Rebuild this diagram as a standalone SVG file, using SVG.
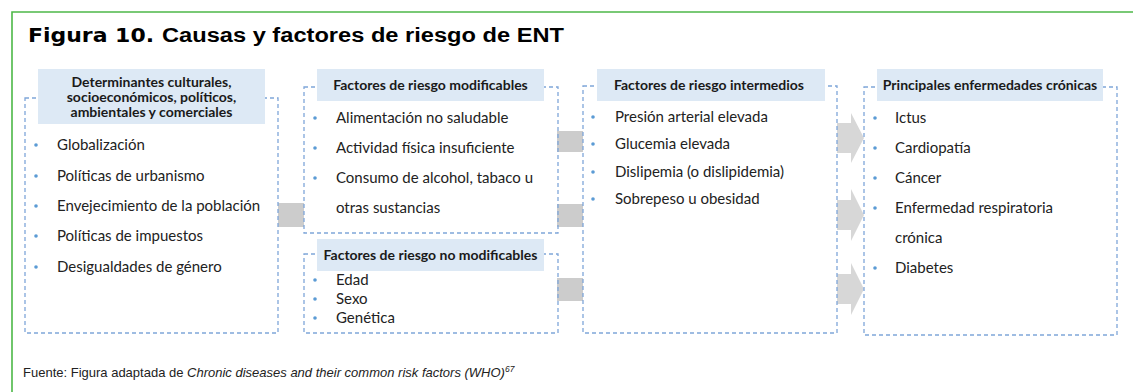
<svg xmlns="http://www.w3.org/2000/svg" width="1133" height="392" viewBox="0 0 1133 392">
<style>
.frame{stroke:#4db848;stroke-width:1.6;fill:none}
.box{fill:none;stroke:#7fa6d9;stroke-width:1.3;stroke-dasharray:4 3}
.hdr{fill:#dde9f5}
.ht{font-family:Lato,"Liberation Sans",sans-serif;font-weight:700;font-size:14px;fill:#1a1a1a;text-anchor:middle}
.it{font-family:Lato,"Liberation Sans",sans-serif;font-size:15px;fill:#222}
.bul{fill:#5b9bd5}
.conn{fill:#cccccc}
.arr{fill:#d7d7d7}
.title{font-family:"Liberation Sans",Arial,sans-serif;font-weight:700;font-size:20px;fill:#000}
.fig{font-family:"DejaVu Sans","Liberation Sans",sans-serif;font-weight:700;font-size:20px;fill:#000}
.foot{font-family:"Liberation Sans",Arial,sans-serif;font-size:13px;fill:#222}
.sup{font-size:8.5px;font-style:italic}
</style>
<rect width="1133" height="392" fill="#fff"/>
<path class="frame" d="M12 392 V12 H1133"/>
<text class="fig" x="28" y="42" textLength="126" lengthAdjust="spacingAndGlyphs">Figura 10.</text>
<text class="title" x="162" y="42" textLength="402" lengthAdjust="spacingAndGlyphs">Causas y factores de riesgo de ENT</text>

<g id="connectors">
<rect class="conn" x="278" y="203" width="26" height="24"/>
<rect class="conn" x="557" y="131" width="26" height="21"/>
<rect class="conn" x="557" y="204" width="26" height="23"/>
<rect class="conn" x="557" y="278" width="26" height="23"/>
<polygon class="arr" points="837,123 851,123 851,113 864,138 851,163 851,153 837,153"/>
<polygon class="arr" points="837,200 851,200 851,189 864,215 851,241 851,230 837,230"/>
<polygon class="arr" points="837,274 851,274 851,263 864,289 851,315 851,304 837,304"/>
</g>

<g id="determinantes">
<rect class="box" x="25" y="98" width="253" height="235"/>
<rect class="hdr" x="38" y="69" width="227" height="55"/>
<text class="ht" x="151.5" y="87">Determinantes culturales,</text>
<text class="ht" x="151.5" y="102">socioeconómicos, políticos,</text>
<text class="ht" x="151.5" y="117">ambientales y comerciales</text>
<circle class="bul" cx="36" cy="145" r="1.8"/>
<circle class="bul" cx="36" cy="176" r="1.8"/>
<circle class="bul" cx="36" cy="206" r="1.8"/>
<circle class="bul" cx="36" cy="236" r="1.8"/>
<circle class="bul" cx="36" cy="267" r="1.8"/>
<text class="it" x="57" y="150">Globalización</text>
<text class="it" x="57" y="181">Políticas de urbanismo</text>
<text class="it" x="57" y="211">Envejecimiento de la población</text>
<text class="it" x="57" y="241">Políticas de impuestos</text>
<text class="it" x="57" y="272">Desigualdades de género</text>
</g>

<g id="modificables">
<rect class="box" x="304" y="87" width="254" height="146"/>
<rect class="hdr" x="317" y="69" width="227" height="32"/>
<text class="ht" x="430.5" y="90">Factores de riesgo modificables</text>
<circle class="bul" cx="315" cy="118" r="1.8"/>
<circle class="bul" cx="315" cy="148" r="1.8"/>
<circle class="bul" cx="315" cy="178" r="1.8"/>
<text class="it" x="336" y="123">Alimentación no saludable</text>
<text class="it" x="336" y="153">Actividad física insuficiente</text>
<text class="it" x="336" y="183">Consumo de alcohol, tabaco u</text>
<text class="it" x="336" y="213">otras sustancias</text>
</g>

<g id="no-modificables">
<rect class="box" x="304" y="254" width="254" height="79"/>
<rect class="hdr" x="317" y="239" width="227" height="32"/>
<text class="ht" x="430.5" y="260">Factores de riesgo no modificables</text>
<circle class="bul" cx="315" cy="280" r="1.8"/>
<circle class="bul" cx="315" cy="299" r="1.8"/>
<circle class="bul" cx="315" cy="318" r="1.8"/>
<text class="it" x="336" y="285">Edad</text>
<text class="it" x="336" y="304">Sexo</text>
<text class="it" x="336" y="323">Genética</text>
</g>

<g id="intermedios">
<rect class="box" x="583" y="86" width="254" height="247"/>
<rect class="hdr" x="597" y="69" width="228" height="32"/>
<text class="ht" x="709" y="90">Factores de riesgo intermedios</text>
<circle class="bul" cx="593" cy="117" r="1.8"/>
<circle class="bul" cx="593" cy="144" r="1.8"/>
<circle class="bul" cx="593" cy="172" r="1.8"/>
<circle class="bul" cx="593" cy="199" r="1.8"/>
<text class="it" x="615" y="122">Presión arterial elevada</text>
<text class="it" x="615" y="149">Glucemia elevada</text>
<text class="it" x="615" y="177">Dislipemia (o dislipidemia)</text>
<text class="it" x="615" y="204">Sobrepeso u obesidad</text>
</g>

<g id="enfermedades">
<rect class="box" x="864" y="87" width="253" height="248"/>
<rect class="hdr" x="877" y="69" width="226" height="32"/>
<text class="ht" x="990" y="90">Principales enfermedades crónicas</text>
<circle class="bul" cx="875" cy="118" r="1.8"/>
<circle class="bul" cx="875" cy="148" r="1.8"/>
<circle class="bul" cx="875" cy="178" r="1.8"/>
<circle class="bul" cx="875" cy="208" r="1.8"/>
<circle class="bul" cx="875" cy="268" r="1.8"/>
<text class="it" x="895" y="123">Ictus</text>
<text class="it" x="895" y="153">Cardiopatía</text>
<text class="it" x="895" y="183">Cáncer</text>
<text class="it" x="895" y="213">Enfermedad respiratoria</text>
<text class="it" x="895" y="243">crónica</text>
<text class="it" x="895" y="273">Diabetes</text>
</g>

<text class="foot" x="23" y="377">Fuente: Figura adaptada de <tspan font-style="italic">Chronic diseases and their common risk factors (WHO)</tspan><tspan class="sup" dy="-5">67</tspan></text>
</svg>
